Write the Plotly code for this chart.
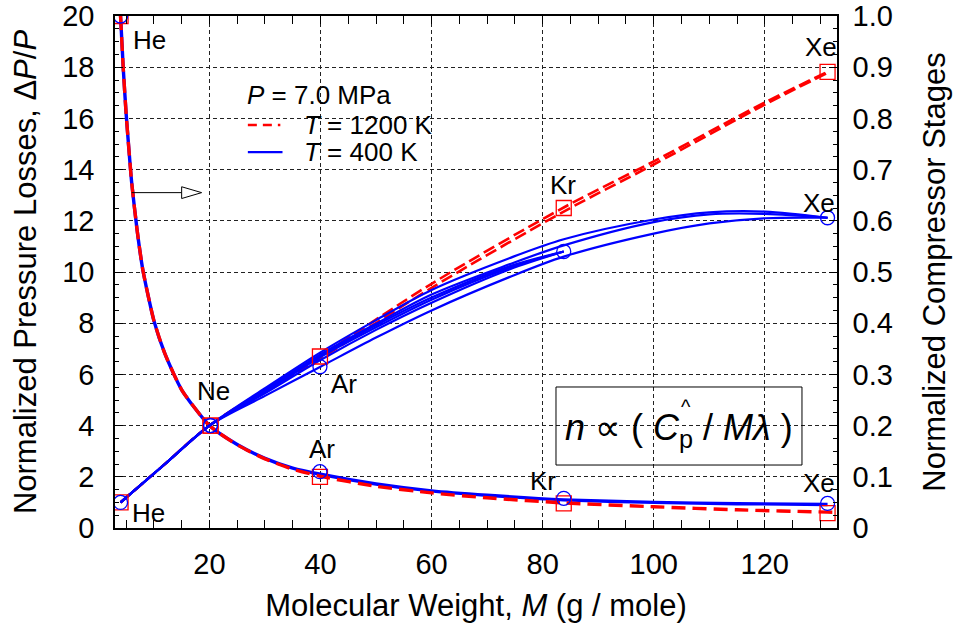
import plotly.graph_objects as go

# ---------------- data ----------------
gas_names = ["He", "Ne", "Ar", "Kr", "Xe"]
M_gas = [4.0, 20.2, 39.9, 83.8, 131.3]

# Normalized pressure losses (left axis)
press_1200_pts = [20.0, 4.0, 2.0, 0.96, 0.58]
press_400_pts = [20.0, 4.0, 2.2, 1.16, 0.96]

M_press_1200 = [4, 4.5, 5, 5.5, 6, 7, 8, 10, 12, 15, 20, 25, 30, 35, 40, 50, 60, 70, 83.8, 100, 115, 131.3, 133]
press_1200 = [20.0, 17.9, 16.2, 14.8, 13.5, 11.6, 10.1, 8.1, 6.8, 5.4, 4.0, 3.25, 2.7, 2.3, 2.02, 1.63, 1.37, 1.18, 0.98, 0.83, 0.71, 0.62, 0.61]
M_press_400 = [4, 4.5, 5, 5.5, 6, 7, 8, 10, 12, 15, 20, 25, 30, 35, 40, 50, 60, 70, 83.8, 100, 115, 131.3]
press_400 = [20.0, 17.9, 16.2, 14.8, 13.5, 11.6, 10.1, 8.1, 6.8, 5.4, 4.0, 3.26, 2.72, 2.34, 2.1, 1.72, 1.45, 1.28, 1.1, 1.0, 0.95, 0.92]

# Normalized compressor stages (right axis)
stages_1200_pts = [0.05, 0.20, 0.335, 0.625, 0.891]
stages_400_pts = [0.05, 0.20, 0.315, 0.54, 0.606]

M_st_1200 = [4, 12, 20, 40, 60, 83.8, 100, 120, 131.3]
stages_1200_a = [0.05, 0.125, 0.20, 0.336, 0.477, 0.626, 0.716, 0.831, 0.891]
stages_1200_b = [0.05, 0.125, 0.20, 0.331, 0.469, 0.618, 0.710, 0.827, 0.889]

M_st_400_full = [4, 12, 20, 30, 40, 50, 60, 74, 83.8, 100, 110, 120, 131.3]
stages_400_a = [0.05, 0.125, 0.20, 0.273, 0.343, 0.406, 0.465, 0.527, 0.564, 0.6025, 0.6165, 0.618, 0.606]
stages_400_b = [0.05, 0.125, 0.20, 0.270, 0.339, 0.399, 0.456, 0.515, 0.552, 0.5975, 0.6125, 0.6135, 0.606]
stages_400_c = [0.05, 0.125, 0.20, 0.258, 0.315, 0.372, 0.425, 0.490, 0.530, 0.575, 0.595, 0.605, 0.606]
M_st_400_part = [4, 12, 20, 30, 40, 50, 60, 74, 83.8]
stages_400_d = [0.05, 0.125, 0.20, 0.268, 0.337, 0.396, 0.450, 0.511, 0.54]
stages_400_e = [0.05, 0.125, 0.20, 0.266, 0.334, 0.392, 0.446, 0.508, 0.54]
stages_400_f = [0.05, 0.125, 0.20, 0.263, 0.328, 0.387, 0.440, 0.505, 0.54]

x_ticks = [20, 40, 60, 80, 100, 120]
y_ticks = [0, 2, 4, 6, 8, 10, 12, 14, 16, 18, 20]
y2_ticks = [0, 0.1, 0.2, 0.3, 0.4, 0.5, 0.6, 0.7, 0.8, 0.9, 1.0]
y2_ticktext = ["0", "0.1", "0.2", "0.3", "0.4", "0.5", "0.6", "0.7", "0.8", "0.9", "1.0"]

RED = "#ff0000"
BLUE = "#0000ff"
FONT = "Liberation Sans, Arial, sans-serif"
DASH_ST = "12px,5px"
DASH_PR = "14px,7px"

fig = go.Figure()

# compressor stages, 1200 K (dashed red)
for ys in (stages_1200_a, stages_1200_b):
    fig.add_trace(go.Scatter(x=M_st_1200, y=ys, yaxis="y2", mode="lines",
                             line=dict(color=RED, width=2.6, dash=DASH_ST, shape="spline", smoothing=0.9),
                             showlegend=False, hoverinfo="skip"))
# compressor stages, 400 K (solid blue)
for xs, ys in ((M_st_400_full, stages_400_a), (M_st_400_full, stages_400_b), (M_st_400_full, stages_400_c),
               (M_st_400_part, stages_400_d), (M_st_400_part, stages_400_e), (M_st_400_part, stages_400_f)):
    fig.add_trace(go.Scatter(x=xs, y=ys, yaxis="y2", mode="lines",
                             line=dict(color=BLUE, width=2.2, shape="spline", smoothing=0.9),
                             showlegend=False, hoverinfo="skip"))

# pressure losses
fig.add_trace(go.Scatter(x=M_press_400, y=press_400, mode="lines",
                         line=dict(color=BLUE, width=3.4, shape="spline", smoothing=0.6),
                         showlegend=False, hoverinfo="skip"))
fig.add_trace(go.Scatter(x=M_press_1200, y=press_1200, mode="lines",
                         line=dict(color=RED, width=3.4, dash=DASH_PR, shape="spline", smoothing=0.6),
                         showlegend=False, hoverinfo="skip"))

# markers
fig.add_trace(go.Scatter(x=M_gas, y=press_1200_pts, mode="markers",
                         marker=dict(symbol="square-open", size=15, color=RED, line=dict(width=1.3)),
                         showlegend=False))
fig.add_trace(go.Scatter(x=M_gas, y=press_400_pts, mode="markers",
                         marker=dict(symbol="circle-open", size=14, color=BLUE, line=dict(width=1.3)),
                         showlegend=False))
fig.add_trace(go.Scatter(x=M_gas, y=stages_1200_pts, yaxis="y2", mode="markers",
                         marker=dict(symbol="square-open", size=15, color=RED, line=dict(width=1.3)),
                         showlegend=False))
fig.add_trace(go.Scatter(x=M_gas, y=stages_400_pts, yaxis="y2", mode="markers",
                         marker=dict(symbol="circle-open", size=14, color=BLUE, line=dict(width=1.3)),
                         showlegend=False))

# gas labels
label_pos = [
    ("He", 9.3, 19.06), ("He", 9.1, 0.6), ("Ne", 20.8, 5.35), ("Ar", 44.3, 5.64), ("Ar", 40.3, 3.1),
    ("Kr", 83.6, 13.4), ("Kr", 80.0, 1.82), ("Xe", 130.1, 18.77), ("Xe", 129.8, 12.71), ("Xe", 129.8, 1.74),
]
annotations = []
for t, xx, yy in label_pos:
    annotations.append(dict(x=xx, y=yy, xref="x", yref="y", text=t, showarrow=False,
                            font=dict(size=26, color="black", family=FONT), xanchor="center", yanchor="middle"))

# legend-like block
annotations += [
    dict(x=0.180, y=0.8457, xref="paper", yref="paper", text="<i>P</i> = 7.0 MPa", showarrow=False,
         font=dict(size=26, color="black", family=FONT), xanchor="left", yanchor="middle"),
    dict(x=0.259, y=0.787, xref="paper", yref="paper", text="<i>T</i> = 1200 K", showarrow=False,
         font=dict(size=26, color="black", family=FONT), xanchor="left", yanchor="middle"),
    dict(x=0.259, y=0.734, xref="paper", yref="paper", text="<i>T</i> = 400 K", showarrow=False,
         font=dict(size=26, color="black", family=FONT), xanchor="left", yanchor="middle"),
    dict(x=0.781, y=0.192, xref="paper", yref="paper",
         text="<i>n</i> \u221d ( <i>C</i><sub>p</sub> / <i>M\u03bb</i> )", showarrow=False,
         font=dict(size=36, color="black", family=FONT), xanchor="center", yanchor="middle"),
    dict(x=0.7915, y=0.236, xref="paper", yref="paper", text="^", showarrow=False,
         font=dict(size=20, color="black", family=FONT), xanchor="center", yanchor="middle"),
]

shapes = [
    # legend samples
    dict(type="line", xref="paper", yref="paper", x0=0.184, x1=0.229, y0=0.787, y1=0.787,
         line=dict(color=RED, width=2.6, dash="9px,6px")),
    dict(type="line", xref="paper", yref="paper", x0=0.184, x1=0.232, y0=0.734, y1=0.734,
         line=dict(color=BLUE, width=2.2)),
    # formula box
    dict(type="rect", xref="paper", yref="paper", x0=0.6108, x1=0.9515, y0=0.123, y1=0.2754,
         line=dict(color="black", width=1), fillcolor="rgba(0,0,0,0)"),
    # arrow pointing to right axis
    dict(type="line", xref="x", yref="y", x0=6.0, x1=15.0, y0=13.1, y1=13.1,
         line=dict(color="black", width=1)),
    dict(type="path", xref="x", yref="y", path="M 15.0,12.87 L 18.6,13.1 L 15.0,13.33 Z",
         line=dict(color="black", width=1), fillcolor="white"),
]

axis_common = dict(showline=True, linecolor="black", linewidth=1.5, ticks="inside",
                   tickcolor="black", ticklen=8, tickwidth=1, zeroline=False, automargin=False,
                   tickfont=dict(size=29, color="black", family=FONT))

fig.update_layout(
    width=956, height=628,
    margin=dict(l=115, r=119, t=16, b=100),
    paper_bgcolor="white", plot_bgcolor="white",
    font=dict(family=FONT, color="black"),
    showlegend=False,
    xaxis=dict(range=[3, 133], tickvals=x_ticks, mirror="allticks",
               showgrid=True, gridcolor="#222", gridwidth=1, griddash="4px,3px",
               minor=dict(dtick=5, tick0=0, ticks="inside", ticklen=4, tickcolor="black", showgrid=False),
               title=dict(text="Molecular Weight, <i>M</i> (g / mole)", font=dict(size=31, family=FONT),
                          standoff=16),
               ticklabelstandoff=9,
               **axis_common),
    yaxis=dict(range=[0, 20], tickvals=y_ticks, mirror=True,
               showgrid=True, gridcolor="#222", gridwidth=1, griddash="4px,3px",
               minor=dict(dtick=0.5, tick0=0, ticks="inside", ticklen=4, tickcolor="black", showgrid=False),
               title=dict(text="Normalized Pressure Losses, \u0394<i>P</i>/<i>P</i>", font=dict(size=31, family=FONT),
                          standoff=16),
               ticklabelstandoff=13,
               **axis_common),
    yaxis2=dict(range=[0, 1], tickvals=y2_ticks, ticktext=y2_ticktext, overlaying="y", side="right",
                showgrid=False,
                minor=dict(dtick=0.025, tick0=0, ticks="inside", ticklen=4, tickcolor="black", showgrid=False),
                title=dict(text="Normalized Compressor Stages", font=dict(size=31, family=FONT), standoff=31),
                ticklabelstandoff=8,
                **axis_common),
    annotations=annotations,
    shapes=shapes,
)

fig.write_html("out.html", config={"displayModeBar": False},
               post_script="document.body.style.margin='0';document.body.style.overflow='hidden';")
